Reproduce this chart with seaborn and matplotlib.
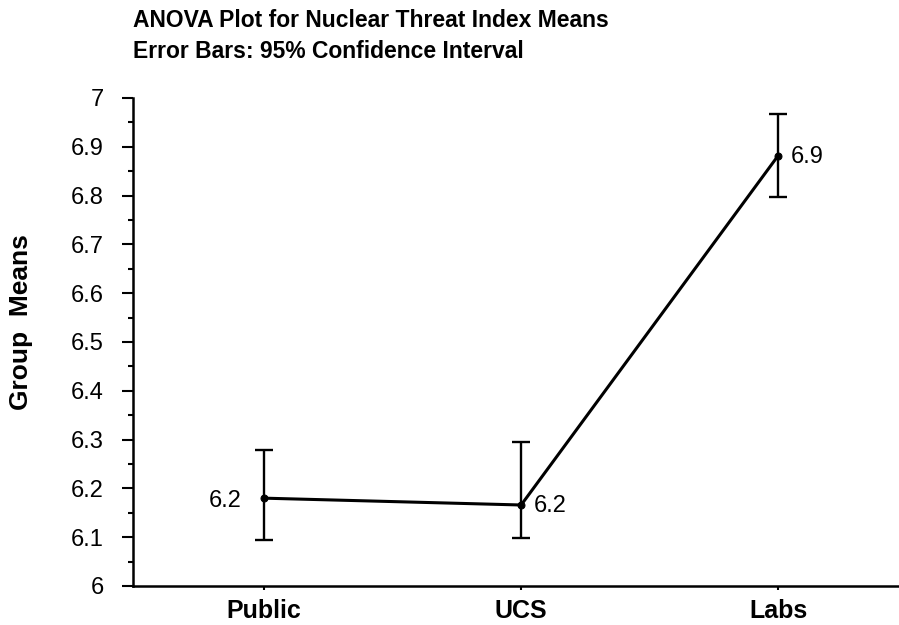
import numpy as np
import pandas as pd
import matplotlib
matplotlib.use("Agg")
import matplotlib.pyplot as plt
import seaborn as sns
from matplotlib.ticker import MultipleLocator

# --- values ---
groups = ["Public", "UCS", "Labs"]
means = [6.180, 6.166, 6.882]
ci_low = [6.094, 6.098, 6.798]
ci_high = [6.279, 6.296, 6.967]
label_side = ["left", "right", "right"]
yticks = [6.0, 6.1, 6.2, 6.3, 6.4, 6.5, 6.6, 6.7, 6.8, 6.9, 7.0]

sns.set_theme(style="white", rc={"text.color": "black", "axes.labelcolor": "black",
                                 "xtick.color": "black", "ytick.color": "black"})
plt.rcParams['font.family'] = ['Liberation Sans', 'DejaVu Sans']

df = pd.DataFrame({"group": groups, "mean": means})

fig = plt.figure(figsize=(8.99, 6.25), dpi=100)
ax = fig.add_axes([133 / 899, 39 / 625, 766 / 899, 488 / 625])

sns.lineplot(data=df, x="group", y="mean", ax=ax, color="black", lw=2.2,
             marker="o", markersize=5, markeredgecolor="black", sort=False)

x = np.arange(len(groups))
err = [np.array(means) - np.array(ci_low), np.array(ci_high) - np.array(means)]
ax.errorbar(x, means, yerr=err, fmt="none", ecolor="black", elinewidth=1.7,
            capsize=6.5, capthick=1.7, zorder=3)

# value labels beside each mean
for xi, m, side in zip(x, means, label_side):
    if side == "left":
        ax.annotate(f"{m:.1f}", (xi, m), xytext=(-16, -2), textcoords="offset points",
                    ha="right", va="center", fontsize=17)
    else:
        ax.annotate(f"{m:.1f}", (xi, m), xytext=(9, -1), textcoords="offset points",
                    ha="left", va="center", fontsize=17)

ax.set_xlim(-0.51, 2.47)
ax.set_ylim(6, 7)
ax.set_yticks(yticks)
ax.set_yticklabels([f"{v:g}" for v in yticks])
ax.yaxis.set_minor_locator(MultipleLocator(0.05))

ax.tick_params(axis="y", which="major", direction="out", length=8, width=1.5,
               labelsize=17, pad=13, left=True)
ax.tick_params(axis="y", which="minor", direction="out", length=3.5, width=1.5,
               left=True)
ax.tick_params(axis="x", direction="out", length=3, width=1.5,
               labelsize=18, pad=6, bottom=True)
for lbl in ax.get_xticklabels():
    lbl.set_fontweight("bold")

for side in ["top", "right"]:
    ax.spines[side].set_visible(False)
for side in ["left", "bottom"]:
    ax.spines[side].set_color("black")
    ax.spines[side].set_linewidth(1.8)

ax.set_xlabel("")
ax.set_ylabel("Group  Means", fontsize=19, fontweight="bold")
ax.yaxis.set_label_coords(-0.13, 0.54)

fig.text(133 / 899, 1 - 9 / 625,
         "ANOVA Plot for Nuclear Threat Index Means\nError Bars: 95% Confidence Interval",
         ha="left", va="top", fontsize=16.5, fontweight="bold", linespacing=1.45)

fig.savefig("out.png", dpi=100)
